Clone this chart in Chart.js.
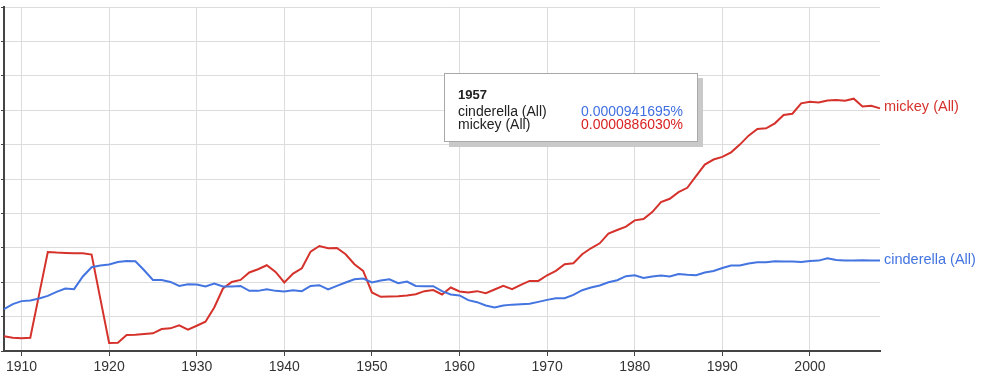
<!DOCTYPE html>
<html>
<head>
<meta charset="utf-8">
<script src="https://cdn.jsdelivr.net/npm/chart.js@4"></script>
<style>
  html, body { margin: 0; padding: 0; background: #fff; }
  #wrap { position: relative; width: 982px; height: 378px; }
  canvas { display: block; }
  #tip {
    position: absolute; left: 444px; top: 73px; width: 252px; height: 67px;
    background: #fff; border: 1px solid #a8a8a8; box-shadow: 5px 5px 0 #c9c9c9;
    font-family: "Liberation Sans", Arial, sans-serif; font-size: 14px; color: #222;
  }
  #tip .yr { position: absolute; left: 13px; top: 13px; font-weight: bold; font-size: 13px; }
  #tip .row { position: absolute; left: 13px; right: 14px; height: 14px; line-height: 14px; }
  #tip .row span.v { position: absolute; right: 0; top: 0; }
</style>
</head>
<body>
<div id="wrap">
  <canvas id="c" width="982" height="378"></canvas>
  <div id="tip">
    <div class="yr" id="tipYear"></div>
    <div class="row" style="top:30px"><span id="n0"></span><span class="v" id="v0" style="color:#3f6fe0"></span></div>
    <div class="row" style="top:43px"><span id="n1"></span><span class="v" id="v1" style="color:#d91f1f"></span></div>
  </div>
</div>
<script>
// Years 1908..2008
const years = [];
for (let y = 1908; y <= 2008; y++) years.push(y);

const seriesNames = ['cinderella (All)', 'mickey (All)'];
const UNIT = 1e-5; // values below are in units of 1e-5 percent

const cinderella = [
  6.09, 6.81, 7.25, 7.35, 7.64, 8.01, 8.59, 9.09, 8.99, 10.83,
  12.17, 12.42, 12.57, 12.94, 13.09, 13.04, 11.74, 10.33, 10.33, 10.04,
  9.46, 9.71, 9.67, 9.38, 9.81, 9.38, 9.38, 9.46, 8.74, 8.74,
  8.99, 8.74, 8.65, 8.84, 8.70, 9.46, 9.57, 8.94, 9.46, 9.96,
  10.43, 10.54, 9.96, 10.25, 10.43, 9.86, 10.10, 9.46, 9.42, 9.41695,
  8.70, 8.22, 8.07, 7.39, 7.10, 6.62, 6.33, 6.62, 6.74, 6.81,
  6.86, 7.14, 7.43, 7.68, 7.68, 8.16, 8.84, 9.23, 9.52, 10.00,
  10.29, 10.87, 11.01, 10.62, 10.83, 10.97, 10.83, 11.20, 11.09, 11.01,
  11.41, 11.64, 12.07, 12.42, 12.42, 12.71, 12.90, 12.90, 13.04, 13.00,
  13.00, 12.94, 13.09, 13.14, 13.48, 13.23, 13.14, 13.14, 13.19, 13.14,
  13.14
];

const mickey = [
  2.13, 1.93, 1.84, 1.93, 8.16, 14.39, 14.30, 14.25, 14.20, 14.20,
  14.01, 7.58, 1.16, 1.20, 2.32, 2.36, 2.46, 2.57, 3.19, 3.29,
  3.72, 3.09, 3.67, 4.25, 6.33, 9.09, 10.04, 10.33, 11.41, 11.88,
  12.46, 11.49, 9.96, 11.26, 12.03, 14.45, 15.26, 14.93, 14.97, 14.06,
  12.61, 11.64, 8.51, 7.87, 7.93, 7.97, 8.07, 8.26, 8.70, 8.86030,
  8.22, 9.23, 8.65, 8.51, 8.70, 8.41, 8.94, 9.46, 8.99, 9.61,
  10.19, 10.19, 11.01, 11.64, 12.61, 12.75, 14.06, 14.93, 15.65, 17.06,
  17.58, 18.07, 18.99, 19.17, 20.19, 21.64, 22.13, 23.09, 23.72, 25.41,
  27.10, 27.83, 28.22, 28.88, 30.00, 31.30, 32.28, 32.36, 33.09, 34.30,
  34.49, 35.99, 36.23, 36.13, 36.42, 36.48, 36.38, 36.67, 35.55, 35.65,
  35.26
];

const tipYearValue = 1957;
const colors = ['#4374e0', '#d5322c'];

// Tooltip text from the data
const ti = years.indexOf(tipYearValue);
document.getElementById('tipYear').textContent = String(tipYearValue);
document.getElementById('n0').textContent = seriesNames[0];
document.getElementById('n1').textContent = seriesNames[1];
document.getElementById('v0').textContent = (cinderella[ti] * UNIT).toFixed(10) + '%';
document.getElementById('v1').textContent = (mickey[ti] * UNIT).toFixed(10) + '%';

const endLabels = {
  id: 'endLabels',
  afterDatasetsDraw(chart) {
    const ctx = chart.ctx;
    ctx.save();
    ctx.font = '14.5px "Liberation Sans", Arial, sans-serif';
    ctx.textBaseline = 'middle';
    ctx.textAlign = 'left';
    chart.data.datasets.forEach((ds, i) => {
      const meta = chart.getDatasetMeta(i);
      const pt = meta.data[meta.data.length - 1];
      ctx.fillStyle = ds.borderColor;
      ctx.fillText(ds.label, pt.x + 4, pt.y - 1);
    });
    ctx.restore();
  }
};

new Chart(document.getElementById('c'), {
  type: 'line',
  data: {
    labels: years,
    datasets: [
      { label: seriesNames[0], data: cinderella, borderColor: colors[0], backgroundColor: colors[0], borderWidth: 2, pointRadius: 0, tension: 0 },
      { label: seriesNames[1], data: mickey, borderColor: colors[1], backgroundColor: colors[1], borderWidth: 2, pointRadius: 0, tension: 0 }
    ]
  },
  options: {
    responsive: false,
    animation: false,
    events: [],
    layout: { padding: { left: 1, right: 102, top: 7, bottom: 0 } },
    plugins: { legend: { display: false }, tooltip: { enabled: false } },
    scales: {
      x: {
        type: 'category',
        offset: false,
        grid: { color: '#dcdcdc', lineWidth: 1, tickLength: 5, tickColor: '#444' },
        border: { color: '#444', width: 2 },
        ticks: {
          autoSkip: false, maxRotation: 0, padding: 4,
          color: '#333',
          font: { family: '"Liberation Sans", Arial, sans-serif', size: 14, lineHeight: 1.0 },
          callback: function (v) { const yr = years[v]; return yr % 10 === 0 ? String(yr) : null; }
        }
      },
      y: {
        min: 0, max: 50,
        grid: { color: '#dcdcdc', lineWidth: 1, tickLength: 3, tickColor: '#444' },
        border: { color: '#444', width: 2 },
        ticks: { display: false, stepSize: 5 }
      }
    }
  },
  plugins: [endLabels]
});
</script>
</body>
</html>
